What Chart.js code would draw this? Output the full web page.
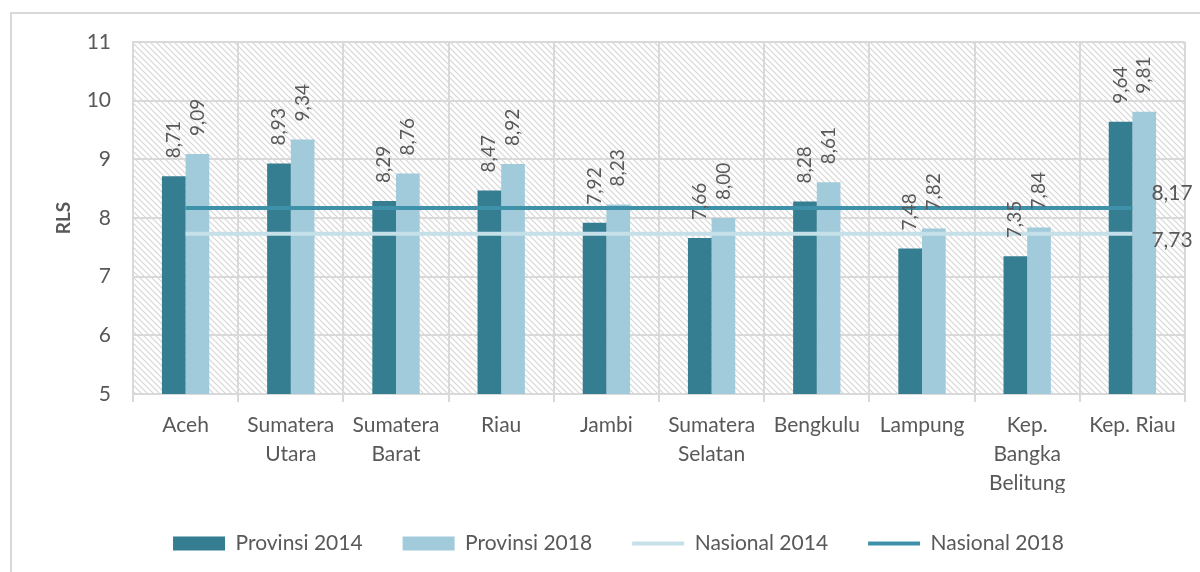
<!DOCTYPE html>
<html>
<head>
<meta charset="utf-8">
<script src="https://cdn.jsdelivr.net/npm/chart.js@4.4.1/dist/chart.umd.min.js"></script>
<style>
  html, body { margin: 0; padding: 0; background: #fff; overflow: hidden; }
  #frame { position: absolute; left: 10px; top: 12px; width: 1300px; height: 700px; border: 2px solid #d9d9d9; }
  #wrap { position: absolute; left: 0; top: 0; width: 1200px; height: 572px; }
</style>
</head>
<body>
<div id="frame"></div>
<div id="wrap"><canvas id="myChart" width="1200" height="572"></canvas></div>
<script>
// provinces on the x-axis (multi-line labels)
var provinces = ['Aceh', ['Sumatera', 'Utara'], ['Sumatera', 'Barat'], 'Riau', 'Jambi', ['Sumatera', 'Selatan'], 'Bengkulu', 'Lampung', ['Kep.', 'Bangka', 'Belitung'], 'Kep. Riau'];
// RLS values
var prov2014 = [8.71, 8.93, 8.29, 8.47, 7.92, 7.66, 8.28, 7.48, 7.35, 9.64];
var prov2018 = [9.09, 9.34, 8.76, 8.92, 8.23, 8.00, 8.61, 7.82, 7.84, 9.81];
var nas2014 = [7.73, 7.73, 7.73, 7.73, 7.73, 7.73, 7.73, 7.73, 7.73, 7.73];
var nas2018 = [8.17, 8.17, 8.17, 8.17, 8.17, 8.17, 8.17, 8.17, 8.17, 8.17];
var yTicks = [5, 6, 7, 8, 9, 10, 11];

var FONT = 'Lato';
var GREY = '#595959';

function fmt(v) { return v.toFixed(2).replace('.', ','); }

// hatched plot background
var hatch = {
  id: 'hatch',
  beforeDraw: function(chart) {
    var a = chart.chartArea, ctx = chart.ctx;
    var p = document.createElement('canvas');
    p.width = 6; p.height = 6;
    var pc = p.getContext('2d');
    pc.strokeStyle = '#d6d6d6';
    pc.lineWidth = 1.2;
    pc.beginPath();
    pc.moveTo(-1, -1); pc.lineTo(7, 7);
    pc.moveTo(-1, 5); pc.lineTo(1, 7);
    pc.moveTo(5, -1); pc.lineTo(7, 1);
    pc.stroke();
    ctx.save();
    ctx.fillStyle = ctx.createPattern(p, 'repeat');
    ctx.fillRect(a.left, a.top, a.right - a.left, a.bottom - a.top);
    ctx.restore();
  }
};

// rotated value labels above bars + labels at end of national lines
var valueLabels = {
  id: 'valueLabels',
  afterDatasetsDraw: function(chart) {
    var ctx = chart.ctx;
    ctx.save();
    ctx.fillStyle = GREY;
    chart.data.datasets.forEach(function(ds, i) {
      var meta = chart.getDatasetMeta(i);
      if (ds.type === 'bar') {
        ctx.font = '19px ' + FONT;
        meta.data.forEach(function(el, j) {
          ctx.save();
          ctx.translate(el.x, el.y - 18);
          ctx.rotate(-Math.PI / 2);
          ctx.textAlign = 'left';
          ctx.textBaseline = 'middle';
          ctx.fillText(fmt(ds.data[j]), 0, 0);
          ctx.restore();
        });
      } else {
        var last = meta.data[meta.data.length - 1];
        ctx.font = '21px ' + FONT;
        ctx.textAlign = 'left';
        ctx.textBaseline = 'middle';
        var dy = ds.label === 'Nasional 2018' ? -15 : 6;
        ctx.fillText(fmt(ds.data[ds.data.length - 1]), last.x + 19, last.y + dy);
      }
    });
    ctx.restore();
  }
};

var ctx = document.getElementById('myChart');
var myChart = new Chart(ctx, {
  data: {
    labels: provinces,
    datasets: [
      { type: 'bar', label: 'Provinsi 2014', data: prov2014, backgroundColor: '#357d91', order: 2, pointStyle: 'rect' },
      { type: 'bar', label: 'Provinsi 2018', data: prov2018, backgroundColor: '#a1cadb', order: 2, pointStyle: 'rect' },
      { type: 'line', label: 'Nasional 2014', data: nas2014, borderColor: '#c5e0e8', backgroundColor: '#c5e0e8', borderWidth: 4, pointRadius: 0, fill: false, order: 1, pointStyle: 'line' },
      { type: 'line', label: 'Nasional 2018', data: nas2018, borderColor: '#3f91aa', backgroundColor: '#3f91aa', borderWidth: 4, pointRadius: 0, fill: false, order: 1, pointStyle: 'line' }
    ]
  },
  options: {
    responsive: false,
    animation: false,
    layout: { padding: { top: 42, right: 15, left: 52, bottom: 8 } },
    datasets: { bar: { barPercentage: 1, categoryPercentage: 0.45 } },
    scales: {
      x: {
        afterFit: function(axis) { axis.height = axis.height - 14; },
        grid: { color: '#d9d9d9', lineWidth: 2, offset: true, tickLength: 8 },
        border: { color: '#d9d9d9', width: 2 },
        ticks: { color: GREY, font: { family: FONT, size: 21, lineHeight: 1.38 }, padding: 9, maxRotation: 0, autoSkip: false }
      },
      y: {
        min: 5, max: 11,
        afterFit: function(axis) { axis.width = 81; },
        afterBuildTicks: function(axis) { axis.ticks = yTicks.map(function(v) { return { value: v }; }); },
        grid: { color: '#d9d9d9', lineWidth: 2, drawTicks: false },
        border: { color: '#d9d9d9', width: 2 },
        ticks: { color: GREY, font: { family: FONT, size: 21 }, padding: 22 },
        title: { display: true, text: 'RLS', color: GREY, font: { family: FONT, size: 19, weight: 'bold' }, padding: 0 }
      }
    },
    plugins: {
      tooltip: { enabled: false },
      legend: {
        position: 'bottom',
        labels: {
          usePointStyle: true,
          pointStyleWidth: 52,
          boxHeight: 14,
          padding: 40,
          color: GREY,
          font: { family: FONT, size: 21 },
          sort: function(a, b) { return a.datasetIndex - b.datasetIndex; }
        }
      }
    }
  },
  plugins: [hatch, valueLabels]
});
</script>
</body>
</html>
